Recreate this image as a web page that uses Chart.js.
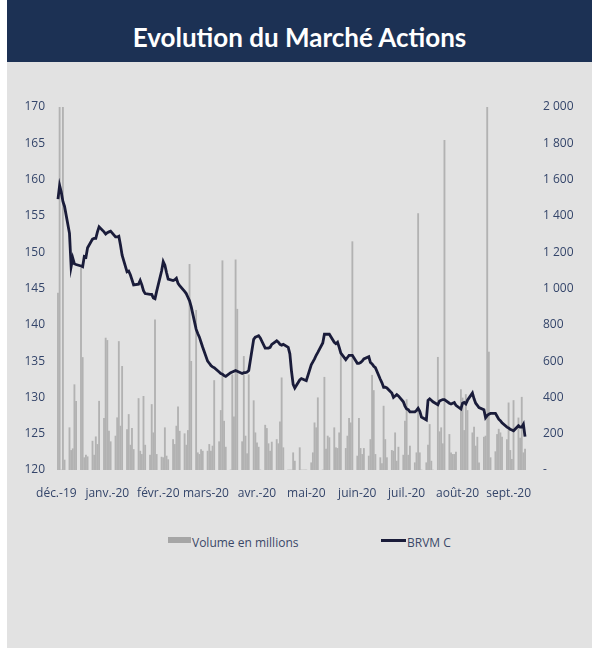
<!DOCTYPE html>
<html>
<head>
<meta charset="utf-8">
<script src="https://cdn.jsdelivr.net/npm/chart.js@4.4.1/dist/chart.umd.min.js"></script>
<style>
  body { margin: 0; background: #ffffff; font-family: 'Open Sans', sans-serif; }
  #banner {
    position: absolute; left: 7px; top: 0; width: 585px; height: 62px;
    background: #1c3154; color: #ffffff; text-align: center;
    font-family: Lato, sans-serif; font-weight: 700; font-size: 26px; line-height: 74px;
  }
  #panel { position: absolute; left: 7px; top: 62px; width: 585px; height: 586px; background: #e2e2e2; }
  #chartBox { position: absolute; left: 0; top: 90px; width: 592px; height: 421px; }
  .leg { position: absolute; font-size: 12px; color: #3a4868; line-height: 14px; }
</style>
</head>
<body>
<div id="panel"></div>
<div id="banner">Evolution du Marché Actions</div>
<div id="chartBox"><canvas id="marketChart"></canvas></div>
<div style="position:absolute;left:168px;top:537px;width:23px;height:6px;background:#a6a6a6"></div>
<div class="leg" style="left:192px;top:536px">Volume en millions</div>
<div style="position:absolute;left:381px;top:539px;width:25px;height:2.5px;background:#1a1c3a"></div>
<div class="leg" style="left:407px;top:536px">BRVM C</div>
<script>
// month labels on the axis and their first day
const monthLabels = ['déc.-19', 'janv.-20', 'févr.-20', 'mars-20', 'avr.-20', 'mai-20', 'juin-20', 'juil.-20', 'août-20', 'sept.-20'];
const monthStarts = ['2019-12-01', '2020-01-01', '2020-02-01', '2020-03-01', '2020-04-01', '2020-05-01', '2020-06-01', '2020-07-01', '2020-08-01', '2020-09-01'];
const firstTradingDay = '2019-12-02';
const tradingWeeks = 41;

// BRVM Composite, one row per week (Mon..Fri)
const brvmC = [
  157.3, 159.2, 158.3, 157.0, 156.3,
  152.6, 148.0, 149.2, 148.4, 148.3,
  148.1, 148.0, 149.4, 149.3, 150.6,
  151.8, 151.9, 151.9, 152.8, 153.5,
  152.8, 152.5, 152.7, 152.8, 152.9,
  152.1, 152.1, 152.2, 151.0, 149.6,
  147.3, 147.4, 146.9, 146.2, 145.5,
  145.6, 146.1, 145.5, 144.7, 144.3,
  144.2, 144.2, 143.7, 143.6, 144.6,
  147.4, 148.7, 148.2, 147.2, 146.3,
  146.1, 146.2, 146.4, 145.7, 145.4,
  144.6, 144.3, 143.8, 143.3, 142.5,
  139.4, 138.8, 138.3, 137.6, 136.9,
  135.0, 134.7, 134.4, 134.2, 134.1,
  133.5, 133.3, 133.2, 133.0, 132.9,
  133.4, 133.5, 133.6, 133.7, 133.6,
  133.3, 133.4, 133.4, 133.5, 133.7,
  138.0, 138.3, 138.4, 138.5, 138.2,
  136.8, 136.8, 136.8, 136.9, 137.3,
  137.8, 137.6, 137.3, 137.2, 137.3,
  136.9, 136.0, 133.6, 131.8, 131.3,
  132.4, 132.6, 132.5, 132.4, 132.3,
  134.5, 134.9, 135.3, 135.8, 136.2,
  137.5, 138.7, 138.7, 138.7, 138.7,
  137.6, 137.4, 137.6, 136.9, 136.1,
  135.2, 135.5, 135.8, 135.8, 135.8,
  134.7, 134.7, 134.8, 135.0, 135.3,
  135.6, 134.8, 134.6, 134.3, 134.1,
  132.5, 132.0, 131.4, 131.4, 131.3,
  130.6, 130.0, 130.2, 130.4, 130.2,
  129.4, 128.8, 128.4, 128.3, 128.0,
  128.0, 128.2, 128.5, 128.1, 127.3,
  126.9, 129.6, 129.8, 129.6, 129.4,
  129.0, 129.5, 129.6, 129.7, 129.7,
  129.2, 129.1, 129.2, 129.3, 128.9,
  128.4, 129.2, 129.3, 129.1, 129.6,
  130.6, 129.8, 129.2, 128.9, 128.6,
  128.3, 127.2, 127.5, 127.7, 127.8,
  127.8, 127.4, 127.0, 126.8, 126.5,
  125.9, 125.8, 125.6, 125.5, 125.4,
  126.1, 125.9, 125.9, 126.3, 124.6
];

// volume in millions, one row per week (Mon..Fri)
const volume = [
  975, 2100, 0, 2100, 55,
  233, 108, 117, 470, 379,
  1111, 620, 68, 82, 73,
  159, 82, 183, 141, 379,
  284, 727, 714, 214, 156,
  187, 288, 708, 242, 571,
  223, 306, 137, 230, 113,
  394, 104, 86, 406, 137,
  82, 361, 205, 828, 86,
  71, 68, 233, 77, 57,
  168, 141, 242, 348, 214,
  200, 137, 218, 1133, 599,
  880, 95, 86, 112, 104,
  104, 141, 104, 132, 493,
  156, 328, 1153, 269, 126,
  0, 525, 293, 1158, 886,
  156, 626, 187, 90, 525,
  382, 205, 150, 126, 0,
  247, 229, 145, 104, 154,
  168, 145, 265, 508, 123,
  0, 0, 0, 95, 49,
  123, 0, 0, 0, 0,
  40, 95, 260, 233, 398,
  0, 511, 115, 187, 178,
  233, 123, 119, 205, 639,
  119, 187, 284, 260, 1258,
  77, 284, 119, 86, 119,
  77, 168, 522, 438, 86,
  68, 35, 352, 168, 68,
  108, 104, 205, 49, 126,
  82, 269, 388, 82, 132,
  40, 95, 1413, 95, 0,
  40, 137, 251, 49, 0,
  621, 211, 233, 145, 1817,
  196, 95, 86, 86, 99,
  443, 397, 218, 416, 328,
  205, 236, 132, 181, 40,
  181, 187, 2000, 650, 68,
  101, 196, 225, 205, 181,
  168, 370, 108, 59, 383,
  287, 176, 401, 95, 115
];

const DAY = 86400000;
const origin = Date.parse(monthStarts[0]);
const monthTicks = monthStarts.map(s => (Date.parse(s) - origin) / DAY);

// weekday offsets (days since 1 Dec 2019)
const dayOffsets = [];
const start = (Date.parse(firstTradingDay) - origin) / DAY;
for (let w = 0; w < tradingWeeks; w++) {
  for (let d = 0; d < 5; d++) dayOffsets.push(start + w * 7 + d);
}

const tickFont = { family: "'Open Sans', sans-serif", size: 12 };
const tickColor = '#34456a';

function spaced(v) {
  if (v === 0) return '-';
  return String(v).replace(/\B(?=(\d{3})+(?!\d))/g, ' ');
}

// fixed axis boxes so the plot area lands where the original has it
function fixBox(size) {
  return scale => {
    scale.paddingLeft = 0;
    scale.paddingRight = 0;
    scale.paddingTop = 0;
    scale.paddingBottom = 0;
    if (scale.isHorizontal()) scale.height = size;
    else scale.width = size;
  };
}

const ctx = document.getElementById('marketChart').getContext('2d');
new Chart(ctx, {
  type: 'bar',
  data: {
    datasets: [
      {
        type: 'line',
        label: 'BRVM C',
        data: dayOffsets.map((x, i) => ({ x: x, y: brvmC[i] })),
        borderColor: '#1a1c3a',
        borderWidth: 2.8,
        pointRadius: 0,
        pointHoverRadius: 0,
        tension: 0,
        yAxisID: 'y',
        order: 0
      },
      {
        label: 'Volume en millions',
        data: dayOffsets.map((x, i) => ({ x: x, y: volume[i] })),
        backgroundColor: '#b2b2b2',
        barThickness: 1.2,
        yAxisID: 'y1',
        order: 1
      }
    ]
  },
  options: {
    responsive: true,
    maintainAspectRatio: false,
    animation: false,
    layout: { autoPadding: false, padding: { left: 24, right: 18, top: 17, bottom: 10 } },
    plugins: { legend: { display: false }, tooltip: { enabled: false } },
    scales: {
      x: {
        type: 'linear',
        offset: false,
        min: -0.2,
        max: 286.8,
        grid: { display: false, drawTicks: false },
        border: { display: false },
        afterBuildTicks: scale => { scale.ticks = monthTicks.map(v => ({ value: v })); },
        afterFit: fixBox(31),
        ticks: {
          autoSkip: false,
          maxRotation: 0,
          padding: 16,
          font: tickFont,
          color: tickColor,
          callback: (v, i) => monthLabels[i]
        }
      },
      y: {
        position: 'left',
        min: 120,
        max: 170,
        grid: { display: false, drawTicks: false },
        border: { display: false },
        afterFit: fixBox(32),
        ticks: { stepSize: 5, padding: 11, font: tickFont, color: tickColor }
      },
      y1: {
        position: 'right',
        min: 0,
        max: 2000,
        grid: { display: false, drawTicks: false },
        border: { display: false },
        afterFit: fixBox(46),
        ticks: { stepSize: 200, padding: 15, font: tickFont, color: tickColor, callback: v => spaced(v) }
      }
    }
  }
});
</script>
</body>
</html>
